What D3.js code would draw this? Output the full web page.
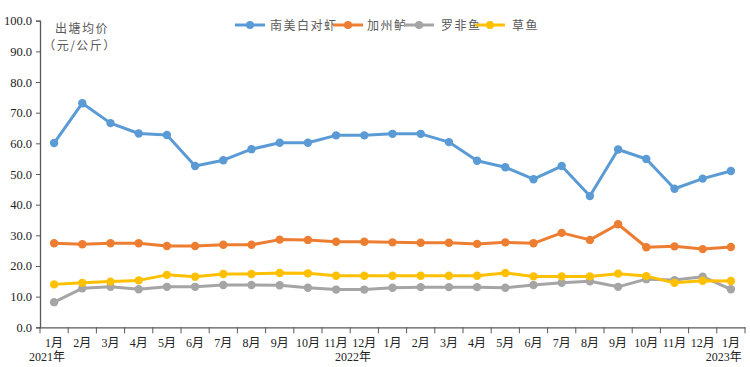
<!DOCTYPE html>
<html><head><meta charset="utf-8">
<script src="https://cdn.jsdelivr.net/npm/d3@7"></script>
<style>
body{margin:0;background:#fff;}
svg{display:block;font-family:"Liberation Serif","Noto Sans CJK SC",serif;}
</style></head><body>
<svg id="c" width="750" height="367"></svg>
<script>
const months = ["1月","2月","3月","4月","5月","6月","7月","8月","9月","10月","11月","12月",
  "1月","2月","3月","4月","5月","6月","7月","8月","9月","10月","11月","12月","1月"];
const yearLabels = [{idx:-0.25,text:"2021年"},{idx:10.6,text:"2022年"},{idx:23.75,text:"2023年"}];
const yTicks = [0,10,20,30,40,50,60,70,80,90,100];
const seriesNames = ["南美白对虾","加州鲈","罗非鱼","草鱼"];
const seriesColors = ["#5B9BD5","#ED7D31","#A5A5A5","#FFC000"];
const shrimp = [60.1,73.1,66.6,63.2,62.7,52.6,54.5,58.1,60.2,60.2,62.6,62.6,63.1,63.1,60.4,54.3,52.2,48.3,52.6,42.8,58.0,54.9,45.2,48.5,51.0];
const bass = [27.4,27.1,27.4,27.4,26.5,26.5,26.9,26.9,28.6,28.5,27.9,27.9,27.7,27.6,27.6,27.2,27.7,27.4,30.8,28.5,33.6,26.1,26.4,25.5,26.2];
const tilapia = [8.2,12.7,13.2,12.4,13.2,13.2,13.8,13.8,13.7,12.9,12.3,12.3,12.9,13.1,13.1,13.1,12.9,13.8,14.5,15.0,13.2,15.7,15.4,16.5,12.4];
const grassCarp = [14.0,14.5,14.9,15.3,17.1,16.5,17.4,17.4,17.7,17.6,16.8,16.8,16.8,16.8,16.8,16.8,17.7,16.6,16.6,16.6,17.5,16.7,14.5,15.2,15.1];
const seriesValues = [shrimp,bass,tilapia,grassCarp];

const svg = d3.select("#c");
const mLeft = 40, mRight = 745, mTop = 20.7, mBottom = 327.3;
const idx = d3.range(months.length);
const x = d3.scaleBand().domain(idx).range([mLeft,mRight]);
const y = d3.scaleLinear().domain([0,100]).range([mBottom,mTop]);
const FONT = "'Liberation Serif','Noto Sans CJK SC',serif";

// y axis
const yAx = svg.append("g").attr("transform",`translate(${mLeft},0)`)
  .call(d3.axisLeft(y).tickValues(yTicks).tickFormat(d3.format(".1f")).tickSizeOuter(0).tickSize(4));
yAx.attr("font-family",FONT).attr("font-size",12.5);
yAx.select(".domain").attr("stroke","#595959").attr("stroke-width",1.3);
yAx.selectAll(".tick line").attr("stroke","#595959");
yAx.selectAll("text").attr("fill","#222").attr("x",-8);

// x axis
const xAx = svg.append("g").attr("transform",`translate(0,${mBottom})`)
  .call(d3.axisBottom(x).tickFormat(i=>months[i]).tickSize(0).tickSizeOuter(0));
xAx.attr("font-family",FONT).attr("font-size",12);
xAx.select(".domain").attr("stroke","#595959").attr("stroke-width",1.3);
xAx.selectAll("text").attr("fill","#222").attr("dy",0).attr("y",19.5);
// tick marks at band boundaries
svg.append("g").selectAll("line").data(d3.range(months.length+1)).join("line")
  .attr("x1",i=>mLeft + i*x.step()).attr("x2",i=>mLeft + i*x.step())
  .attr("y1",mBottom).attr("y2",mBottom+6).attr("stroke","#595959").attr("stroke-width",1);
svg.append("g").selectAll("text").data(yearLabels).join("text")
  .attr("x",d=>mLeft + (d.idx+0.5)*x.step())
  .attr("y",360.5).attr("text-anchor","middle").attr("font-family",FONT).attr("font-size",12).attr("fill","#222")
  .text(d=>d.text);

// lines
const line = d3.line().x((d,i)=>x(i)+x.bandwidth()/2).y(d=>y(d));
seriesValues.forEach((vals,k)=>{
  const g = svg.append("g");
  g.append("path").datum(vals).attr("d",line).attr("fill","none")
    .attr("stroke",seriesColors[k]).attr("stroke-width",3).attr("stroke-linejoin","round");
  g.selectAll("circle").data(vals).join("circle")
    .attr("cx",(d,i)=>x(i)+x.bandwidth()/2).attr("cy",d=>y(d)).attr("r",4.2)
    .attr("fill",seriesColors[k]);
});

// axis title
svg.append("text").attr("x",82).attr("y",33).attr("text-anchor","middle")
  .attr("font-family","Noto Sans CJK SC").attr("font-size",12).attr("fill","#595959").attr("letter-spacing",1.5).text("出塘均价");
svg.append("text").attr("x",80).attr("y",50).attr("text-anchor","middle")
  .attr("font-family","Noto Sans CJK SC").attr("font-size",12).attr("fill","#595959").attr("letter-spacing",1.5).text("（元/公斤）");

// legend
const legend = [
  {lx:235, tx:270},
  {lx:333, tx:367},
  {lx:404, tx:441},
  {lx:475, tx:512}
];
const lg = svg.append("g");
legend.forEach((p,k)=>{
  lg.append("line").attr("x1",p.lx).attr("x2",p.lx+30).attr("y1",25).attr("y2",25)
    .attr("stroke",seriesColors[k]).attr("stroke-width",3);
  lg.append("circle").attr("cx",p.lx+15).attr("cy",25).attr("r",4).attr("fill",seriesColors[k]);
  lg.append("text").attr("x",p.tx).attr("y",29.5).attr("font-family","Noto Sans CJK SC")
    .attr("font-size",12).attr("fill","#595959").attr("letter-spacing",1.5).text(seriesNames[k]);
});
</script>
</body></html>
